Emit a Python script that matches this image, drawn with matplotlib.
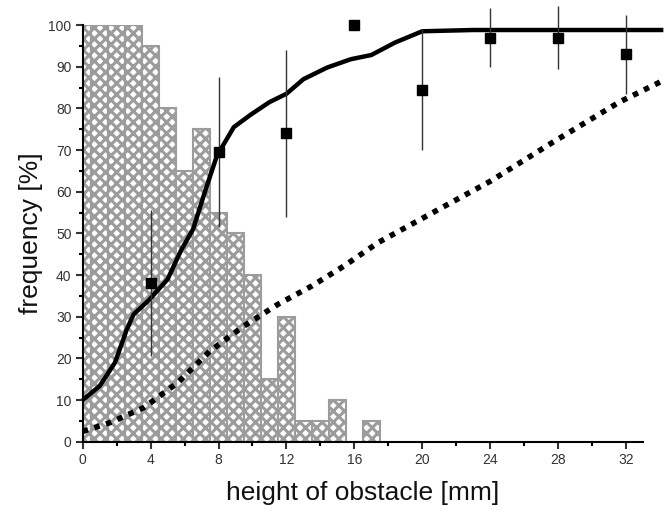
import matplotlib
matplotlib.use("Agg")
import matplotlib.pyplot as plt
from matplotlib.ticker import MultipleLocator

plt.rcParams['font.family'] = ['Liberation Sans', 'DejaVu Sans']
plt.rcParams['hatch.linewidth'] = 2.2
plt.rcParams['hatch.color'] = '#9c9c9c'

# histogram (1 mm bins, centred on integers)
hist_x = list(range(0, 18))
hist_y = [100, 100, 100, 100, 95, 80, 65, 75, 55, 50, 40, 15, 30, 5, 5, 10, 0, 5]

# measured points with error bars
pts_x = [4, 8, 12, 16, 20, 24, 28, 32]
pts_y = [38, 69.5, 74, 100, 84.5, 97, 97, 93]
pts_err = [17.5, 18, 20, 0, 14.5, 7, 7.5, 9.5]

# solid curve
sol_x = [0, 1, 1.9, 2.6, 3.0, 3.9, 5.0, 5.8, 6.5, 7.2, 7.9, 8.9, 9.9, 11.0,
         12.0, 13.0, 14.4, 15.8, 17.0, 18.4, 20.0, 23.0, 28.0, 34.2]
sol_y = [10, 13.4, 19, 27, 30.6, 34, 39, 46, 51, 60, 68.6, 75.5, 78.5, 81.5,
         83.5, 87, 89.8, 91.8, 92.8, 95.8, 98.5, 98.8, 98.8, 98.8]

# dotted curve
dot_x = [0, 1.6, 3.6, 5.6, 7.5, 9.5, 11.5, 13.5, 15.4, 17.4, 21.7, 24.0,
         27.7, 31.6, 34.0]
dot_y = [2.5, 4.6, 8.2, 14.2, 21.8, 27.8, 33, 37.4, 42.2, 47.8, 57.4, 62.5,
         71.9, 81.5, 86.3]

fig = plt.figure(figsize=(6.67, 5.21), dpi=100)
ax = fig.add_axes([0.124, 0.152, 0.84, 0.8])

ax.bar(hist_x, hist_y, width=1.0, align='center', color='white',
       edgecolor='#9c9c9c', hatch='xxx', linewidth=1.5, zorder=1)

ax.plot(dot_x, dot_y, color='black', lw=4, linestyle=(0, (1, 1.2)),
        dash_capstyle='butt', clip_on=False, zorder=3)
ax.plot(sol_x, sol_y, color='black', lw=3.2, solid_joinstyle='round',
        solid_capstyle='butt', clip_on=False, zorder=4)

err = ax.errorbar(pts_x, pts_y, yerr=pts_err, fmt='s', color='black',
                  ms=7.5, ecolor='#333333', elinewidth=1.0, capsize=0,
                  zorder=5)
for art in err.get_children():
    art.set_clip_on(False)

ax.set_xlim(0, 33)
ax.set_ylim(0, 100)
ax.xaxis.set_major_locator(MultipleLocator(4))
ax.xaxis.set_minor_locator(MultipleLocator(2))
ax.yaxis.set_major_locator(MultipleLocator(10))
ax.yaxis.set_minor_locator(MultipleLocator(5))

for s in ['top', 'right']:
    ax.spines[s].set_visible(False)
for s in ['left', 'bottom']:
    ax.spines[s].set_linewidth(1.5)
    ax.spines[s].set_zorder(6)

ax.tick_params(which='major', direction='out', length=5, width=1.5,
               labelsize=10, colors='#333333', pad=3)
ax.tick_params(which='minor', direction='out', length=3, width=1.5)

ax.set_xlabel('height of obstacle [mm]', fontsize=19, labelpad=10,
              color='#111111')
ax.set_ylabel('frequency [%]', fontsize=19, labelpad=4, color='#111111')

fig.savefig('out.png', dpi=100)
